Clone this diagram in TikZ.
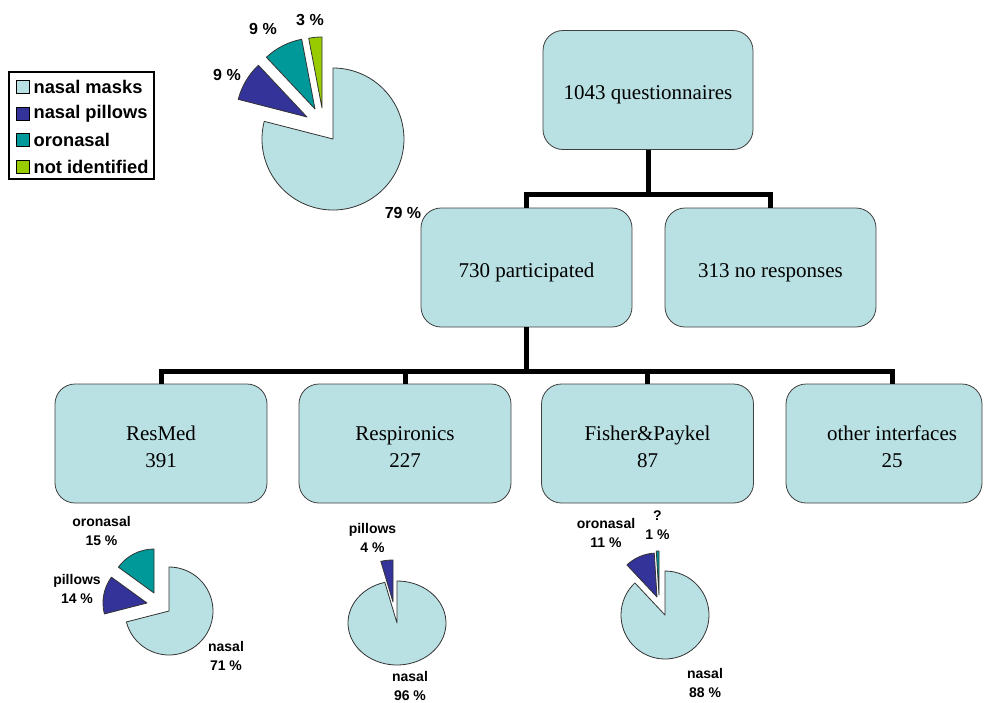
\documentclass[tikz,border=0pt]{standalone}
\usepackage{fontspec}
\setmainfont{Liberation Serif}
\setsansfont{Liberation Sans}
\usetikzlibrary{positioning}

\definecolor{maskblue}{RGB}{185,224,227}
\definecolor{pillowblue}{RGB}{51,51,153}
\definecolor{oroteal}{RGB}{0,153,153}
\definecolor{unknowngreen}{RGB}{153,204,0}

% apex, x radius, y radius, from angle, to angle, colour
\newcommand{\pieslice}[6]{%
    \filldraw[slice, fill = #6] (#1) -- ++(#4:#2 and #3)
        arc[start angle = #4, end angle = #5, x radius = #2, y radius = #3] -- cycle;}

\begin{document}
\begin{tikzpicture}[x = 1pt, y = 1pt,
        box/.style = {draw = black!75, line width = 0.8pt, fill = maskblue, rounded corners = 20pt,
            minimum width = 212pt, minimum height = 119pt, align = center, inner sep = 0pt,
            font = \fontsize{21}{27}\selectfont},
        onebox/.style = {box, text height = 24pt},
        twobox/.style = {box, text height = 48pt},
        link/.style = {line width = 5pt, black},
        slice/.style = {draw = black!80, line width = 0.8pt, line join = round},
        pct/.style = {font = \sffamily\bfseries\fontsize{16}{19}\selectfont, inner sep = 0pt},
        smallpct/.style = {font = \sffamily\bfseries\fontsize{14}{19}\selectfont, align = center, inner sep = 0pt},
        key/.style = {draw, line width = 0.8pt, minimum size = 13pt, inner sep = 0pt},
        keytext/.style = {font = \sffamily\bfseries\fontsize{18.3}{20}\selectfont, inner sep = 0pt}]
    \useasboundingbox (0,0) rectangle (984,-702);

    % tree
    \node[onebox, minimum width = 210pt] (quest) at (648,-90) {1043 questionnaires};
    \node[onebox, minimum width = 211pt] (part) at (526.5,-267.5) {730 participated};
    \node[onebox, minimum width = 211pt] (nores) at (770.5,-267.5) {313 no responses};
    \node[twobox] (resmed) at (161,-443.5) {ResMed\\391};
    \node[twobox] (respi) at (405,-443.5) {Respironics\\227};
    \node[twobox] (fisher) at (647.5,-443.5) {Fisher\&Paykel\\87};
    \node[twobox, minimum width = 196pt] (other) at (884,-443.5) {\hspace*{16pt}other interfaces\\\hspace*{16pt}25};

    \draw[link] (quest.south) -- ++(0,-45) coordinate (qsplit);
    \draw[link] (part.north) |- (qsplit) -| (nores.north);
    \draw[link] (part.south) -- ++(0,-44) coordinate (psplit);
    \draw[link] (resmed.north) |- (psplit) -| ([xshift = 8pt]other.north);
    \draw[link] (respi.north) -- (respi.north |- psplit);
    \draw[link] (fisher.north) -- (fisher.north |- psplit);

    % all interfaces
    \pieslice{333,-139}{71}{71}{165.6}{450}{maskblue}
    \pieslice{307,-117}{71}{71}{133.2}{165.6}{pillowblue}
    \pieslice{315,-109}{71}{71}{100.8}{133.2}{oroteal}
    \pieslice{322,-108}{71}{71}{90}{100.8}{unknowngreen}
    \node[pct] (allpil) at (227,-75) {9 \%};
    \node[pct] (alloro) at (263,-29) {9 \%};
    \node[pct] (allnot) at (310,-20) {3 \%};
    \node[pct] (allnas) at (403,-213) {79 \%};

    % legend
    \node[draw, line width = 1.2pt, minimum width = 145pt, minimum height = 107pt, inner sep = 0pt] (legend) at (81.5,-125.5) {};
    \foreach \i/\col/\txt/\y in {1/maskblue/nasal masks/87, 2/pillowblue/nasal pillows/114,
            3/oroteal/oronasal/140, 4/unknowngreen/not identified/167}{
        \node[key, fill = \col] (key\i) at (22.5,-\y) {};
        \node[keytext, right = 4pt of key\i] (keylabel\i) {\txt};
    }

    % ResMed
    \pieslice{169,-611}{44}{44}{194.4}{450}{maskblue}
    \pieslice{147,-603}{44}{44}{144}{194.4}{pillowblue}
    \pieslice{154,-593}{44}{44}{90}{144}{oroteal}
    \node[smallpct] (rmoro) at (101.5,-530.5) {oronasal\\15 \%};
    \node[smallpct] (rmpil) at (77,-588.5) {pillows\\14 \%};
    \node[smallpct] (rmnas) at (226,-656) {nasal\\71 \%};

    % Respironics
    \pieslice{397,-623}{49}{42}{104.4}{450}{maskblue}
    \pieslice{393,-602}{49}{42}{90}{104.4}{pillowblue}
    \node[smallpct] (rppil) at (372.5,-538) {pillows\\4 \%};
    \node[smallpct] (rpnas) at (410,-686) {nasal\\96 \%};

    % Fisher&Paykel
    \pieslice{665,-615}{44}{44}{133.2}{450}{maskblue}
    \pieslice{657,-597}{44}{44}{93.6}{133.2}{pillowblue}
    \pieslice{659,-595}{44}{44}{90}{93.6}{oroteal}
    \node[smallpct] (fporo) at (606,-532.5) {oronasal\\11 \%};
    \node[smallpct] (fpunk) at (657.5,-525.5) {?\\1 \%};
    \node[smallpct] (fpnas) at (705,-683) {nasal\\88 \%};
\end{tikzpicture}
\end{document}
